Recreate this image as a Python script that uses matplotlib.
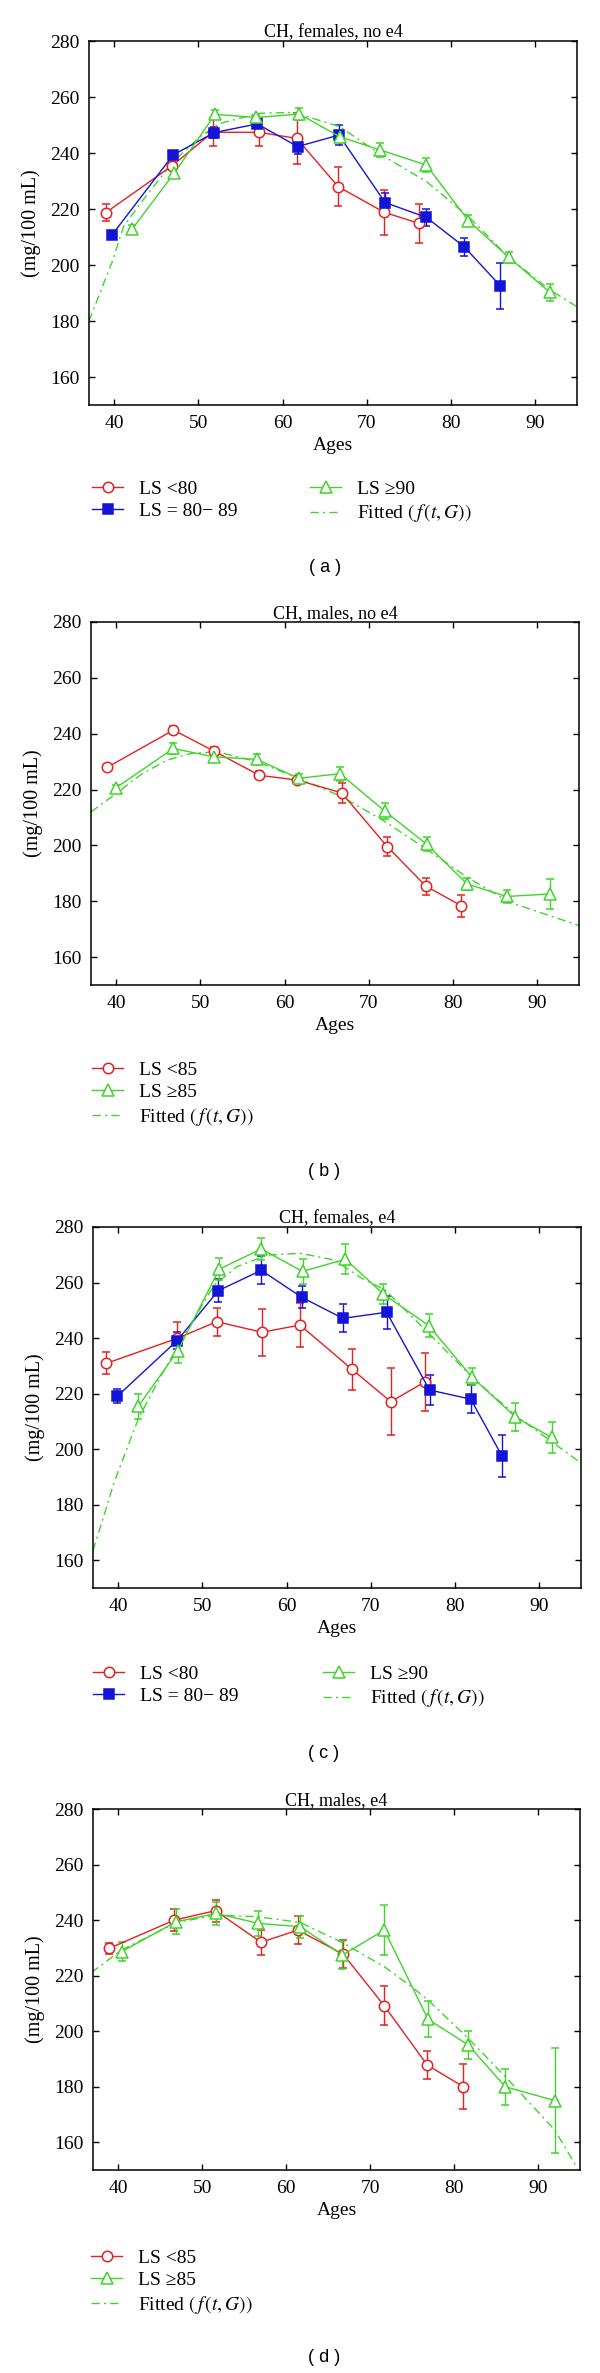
import matplotlib.pyplot as plt

plt.rcParams['font.family'] = ['Liberation Serif', 'DejaVu Serif']
plt.rcParams['mathtext.fontset'] = 'stix'

RED = '#e5201f'
BLUE = '#1414d8'
GREEN = '#3fd42a'

# (a) CH, females, no e4
a_red_age = [39.0, 46.9, 51.7, 57.2, 61.7, 66.6, 72.1, 76.2]
a_red_val = [218.7, 235.5, 247.4, 247.4, 245.2, 228.0, 218.8, 214.9]
a_red_err = [3.0, 1.5, 5.0, 5.0, 9.0, 7.0, 8.0, 7.0]
a_blue_age = [39.7, 47.0, 51.9, 57.0, 61.8, 66.7, 72.2, 77.1, 81.6, 85.9]
a_blue_val = [210.6, 239.3, 247.3, 250.4, 242.3, 246.4, 222.3, 217.0, 206.5, 192.5]
a_blue_err = [1.0, 1.5, 2.0, 1.0, 2.5, 3.5, 3.5, 3.0, 3.3, 8.3]
a_green_age = [42.1, 47.1, 52.0, 56.9, 62.0, 66.8, 71.6, 77.1, 82.1, 86.9, 91.8]
a_green_val = [212.7, 232.7, 253.8, 252.7, 253.9, 245.8, 241.1, 235.7, 215.8, 202.7, 190.2]
a_green_err = [1.5, 1.5, 1.5, 1.0, 2.0, 1.5, 2.5, 2.5, 2.0, 2.0, 3.0]
a_fit_age = [37.0, 39.8, 41.1, 43.1, 47.0, 50.2, 52.6, 57.3, 61.3, 66.8, 71.6, 77.1, 82.1, 86.9, 91.8, 95.0]
a_fit_val = [180.0, 201.5, 213.7, 222.0, 236.9, 245.8, 250.6, 254.2, 254.5, 249.4, 239.6, 229.8, 217.3, 202.7, 191.1, 185.1]

# (b) CH, males, no e4
b_red_age = [38.9, 46.8, 51.6, 57.0, 61.5, 66.8, 72.2, 76.8, 81.0]
b_red_val = [227.9, 241.3, 233.8, 225.1, 223.4, 218.8, 199.6, 185.4, 178.4]
b_red_err = [1.0, 1.5, 1.5, 1.5, 1.5, 3.5, 3.5, 3.0, 4.0]
b_green_age = [40.0, 46.8, 51.6, 56.7, 61.7, 66.6, 71.9, 76.9, 81.7, 86.4, 91.5]
b_green_val = [220.7, 234.7, 231.7, 230.8, 224.0, 225.7, 212.3, 200.4, 186.2, 181.7, 182.6]
b_green_err = [1.0, 2.0, 1.5, 2.0, 1.5, 2.5, 2.8, 2.5, 2.0, 2.5, 5.5]
b_fit_age = [37.0, 40.0, 43.0, 46.0, 49.0, 52.0, 56.7, 61.7, 66.7, 71.7, 76.8, 81.8, 86.8, 95.0]
b_fit_val = [212.0, 218.6, 225.5, 230.5, 233.0, 233.5, 230.0, 224.0, 217.6, 209.0, 198.8, 188.4, 179.6, 171.3]

# (c) CH, females, e4
c_red_age = [38.6, 47.0, 51.7, 57.1, 61.6, 67.8, 72.4, 76.5]
c_red_val = [230.9, 239.9, 245.9, 242.1, 244.7, 228.7, 217.1, 224.3]
c_red_err = [4.0, 6.0, 5.0, 8.5, 8.0, 7.5, 12.0, 10.5]
c_blue_age = [39.9, 47.0, 51.9, 57.0, 61.8, 66.7, 71.9, 77.0, 81.9, 85.6]
c_blue_val = [219.1, 239.1, 257.1, 264.4, 254.7, 247.1, 249.3, 221.3, 218.0, 197.6]
c_blue_err = [2.5, 3.0, 4.0, 5.0, 4.0, 5.0, 6.0, 5.5, 5.0, 7.5]
c_green_age = [42.4, 47.1, 52.0, 57.0, 61.9, 67.0, 71.5, 76.9, 82.0, 87.2, 91.5]
c_green_val = [215.5, 235.5, 264.8, 272.1, 264.0, 268.4, 255.9, 244.5, 226.1, 211.6, 204.2]
c_green_err = [4.5, 4.5, 4.0, 4.0, 4.5, 5.5, 3.5, 4.0, 3.0, 5.0, 5.5]
c_fit_age = [37.0, 38.5, 39.5, 42.4, 45.0, 48.2, 51.4, 54.1, 57.7, 61.7, 65.7, 68.9, 71.7, 76.9, 82.0, 87.2, 95.0]
c_fit_val = [163.5, 178.0, 188.0, 211.0, 226.0, 242.8, 259.1, 265.7, 269.9, 270.5, 268.1, 261.6, 257.4, 241.7, 226.1, 212.2, 195.0]

# (d) CH, males, e4
d_red_age = [38.9, 46.7, 51.6, 57.0, 61.4, 66.8, 71.7, 76.8, 81.1]
d_red_val = [229.8, 240.0, 243.4, 232.0, 236.4, 227.7, 209.1, 187.8, 180.0]
d_red_err = [2.0, 4.0, 4.0, 4.5, 5.0, 5.0, 7.0, 5.0, 8.0]
d_green_age = [40.4, 46.9, 51.7, 56.7, 61.7, 66.7, 71.7, 76.9, 81.7, 86.1, 92.0]
d_green_val = [228.6, 239.4, 242.4, 238.8, 237.6, 227.4, 236.4, 204.3, 195.0, 180.0, 175.0]
d_green_err = [3.5, 4.5, 4.0, 4.5, 4.0, 5.0, 9.0, 6.5, 5.0, 6.5, 19.0]
d_fit_age = [36.8, 40.4, 46.9, 51.7, 56.7, 61.7, 66.7, 71.7, 75.2, 76.9, 81.7, 86.1, 92.0, 94.7]
d_fit_val = [221.1, 229.2, 239.1, 241.8, 241.2, 239.1, 231.9, 223.2, 215.4, 211.2, 197.4, 183.6, 164.4, 150.6]

W, H = 600, 2373
fig = plt.figure(figsize=(W / 100, H / 100), dpi=100)


def add_axes_px(left, right, top, bottom):
    return fig.add_axes([left / W, 1 - bottom / H, (right - left) / W, (bottom - top) / H])


def series(ax, age, val, err, color, marker, ms, filled):
    eb = ax.errorbar(age, val, yerr=err, color=color, marker=marker, ms=ms,
                     mfc=color if filled else 'white', mec=color, mew=1.1,
                     lw=1.0, elinewidth=1.0, capsize=3, capthick=1.0)
    return eb[0]


def setup(ax, title):
    ax.set_xlim(37, 95)
    ax.set_ylim(150, 280)
    ax.set_xticks([40, 50, 60, 70, 80, 90])
    ax.set_yticks([160, 180, 200, 220, 240, 260, 280])
    ax.tick_params(direction='in', top=True, right=True, length=4, width=1.0,
                   labelsize=14, pad=7)
    for s in ax.spines.values():
        s.set_linewidth(1.1)
    ax.set_title(title, fontsize=13, pad=3)
    ax.set_xlabel('Ages', fontsize=14, labelpad=4)
    ax.set_ylabel('(mg/100 mL)', fontsize=14.5, labelpad=6)


def legend(handles, labels, x, y):
    fig.legend(handles, labels, loc='upper left',
               bbox_to_anchor=(x / W, 1 - y / H), frameon=False, fontsize=14,
               borderpad=0, borderaxespad=0, handlelength=1.6, handletextpad=0.8,
               labelspacing=0.25, numpoints=1)


def fit_line(ax, age, val):
    ln, = ax.plot(age, val, color=GREEN, lw=1.0, dashes=(6, 3, 1.5, 3))
    return ln


fit_label = r'Fitted $(\,f\,(t, G))$'

# panel (a)
ax = add_axes_px(89, 577, 41, 405)
h1 = series(ax, a_red_age, a_red_val, a_red_err, RED, 'o', 7.5, False)
h2 = series(ax, a_blue_age, a_blue_val, a_blue_err, BLUE, 's', 6.5, True)
h3 = series(ax, a_green_age, a_green_val, a_green_err, GREEN, '^', 8, False)
h4 = fit_line(ax, a_fit_age, a_fit_val)
setup(ax, 'CH, females, no e4')
legend([h1, h2], ['LS <80', 'LS = 80\u2212 89'], 92, 480)
legend([h3, h4], ['LS \u226590', fit_label], 310, 480)
fig.text(325 / W, 1 - 567 / H, '( a )', ha='center', va='center', fontsize=13,
         family='Liberation Sans')

# panel (b)
ax = add_axes_px(91, 579, 622, 985)
h1 = series(ax, b_red_age, b_red_val, b_red_err, RED, 'o', 7.5, False)
h3 = series(ax, b_green_age, b_green_val, b_green_err, GREEN, '^', 8, False)
h4 = fit_line(ax, b_fit_age, b_fit_val)
setup(ax, 'CH, males, no e4')
legend([h1, h3, h4], ['LS <85', 'LS \u226585', fit_label], 92, 1061)
fig.text(324 / W, 1 - 1172 / H, '( b )', ha='center', va='center', fontsize=13,
         family='Liberation Sans')

# panel (c)
ax = add_axes_px(93, 581, 1227, 1588)
h1 = series(ax, c_red_age, c_red_val, c_red_err, RED, 'o', 7.5, False)
h2 = series(ax, c_blue_age, c_blue_val, c_blue_err, BLUE, 's', 6.5, True)
h3 = series(ax, c_green_age, c_green_val, c_green_err, GREEN, '^', 8, False)
h4 = fit_line(ax, c_fit_age, c_fit_val)
setup(ax, 'CH, females, e4')
legend([h1, h2], ['LS <80', 'LS = 80\u2212 89'], 93, 1665)
legend([h3, h4], ['LS \u226590', fit_label], 323, 1665)
fig.text(324 / W, 1 - 1753 / H, '( c )', ha='center', va='center', fontsize=13,
         family='Liberation Sans')

# panel (d)
ax = add_axes_px(93, 580, 1809, 2170)
h1 = series(ax, d_red_age, d_red_val, d_red_err, RED, 'o', 7.5, False)
h3 = series(ax, d_green_age, d_green_val, d_green_err, GREEN, '^', 8, False)
h4 = fit_line(ax, d_fit_age, d_fit_val)
setup(ax, 'CH, males, e4')
legend([h1, h3, h4], ['LS <85', 'LS \u226585', fit_label], 91, 2249)
fig.text(324 / W, 1 - 2357 / H, '( d )', ha='center', va='center', fontsize=13,
         family='Liberation Sans')

fig.savefig('out.png', dpi=100)
